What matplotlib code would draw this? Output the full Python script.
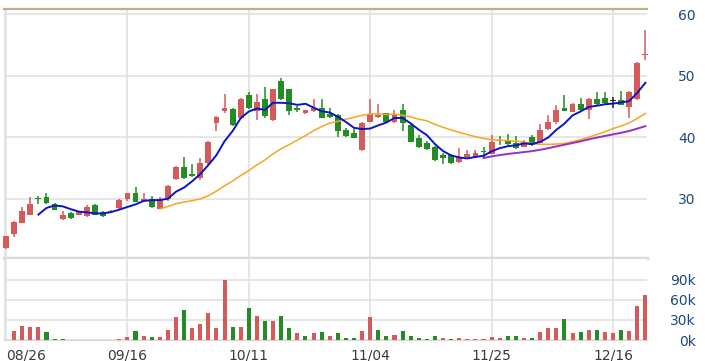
import numpy as np
import pandas as pd
import matplotlib
matplotlib.use('Agg')
import matplotlib.pyplot as plt

# daily candles (open, high, low, close)
opens = [22.0, 24.3, 26.1, 27.4, 30.0, 30.2, 29.1, 26.7, 27.7, 27.35,
         27.2, 29.0, 27.9, 27.8, 28.5, 29.9, 31.0, 29.7, 29.9, 28.4,
         29.9, 33.2, 35.2, 34.1, 33.3, 35.75, 42.35, 44.3, 44.6, 43.1,
         46.8, 44.25, 46.2, 42.8, 49.1, 47.8, 44.7, 43.9, 44.2, 44.8,
         43.7, 43.6, 41.2, 40.7, 37.9, 42.5, 43.3, 43.9, 42.4, 44.4,
         42.0, 39.8, 39.1, 38.45, 37.1, 37.1, 35.9, 36.8, 36.8, 37.8,
         37.3, 39.55, 39.55, 39.0, 38.45, 40.1, 39.1, 41.3, 42.5, 44.8,
         44.15, 45.35, 44.4, 46.2, 46.3, 45.9, 46.05, 44.95, 46.2, 53.4]
highs = [24.0, 26.3, 28.7, 30.2, 30.4, 30.9, 29.3, 28.0, 27.9, 27.9,
         28.9, 29.1, 28.0, 28.1, 30.0, 31.0, 31.9, 30.9, 30.4, 30.2,
         32.3, 35.4, 36.8, 35.7, 36.7, 39.4, 43.4, 47.0, 44.7, 46.3,
         47.4, 47.1, 48.2, 47.9, 49.7, 47.9, 45.0, 44.5, 46.2, 46.2,
         44.8, 43.7, 41.5, 41.3, 42.4, 46.2, 45.35, 44.0, 44.5, 45.4,
         42.1, 40.35, 39.4, 38.5, 37.4, 37.2, 38.2, 37.85, 38.0, 38.45,
         40.3, 40.2, 40.5, 40.2, 39.5, 40.4, 42.15, 43.6, 45.2, 46.85,
         45.5, 46.4, 46.4, 47.4, 47.4, 46.6, 47.55, 47.5, 52.2, 57.5]
lows = [21.9, 23.7, 26.0, 27.3, 29.2, 29.2, 28.1, 26.6, 26.7, 27.3,
        27.1, 27.3, 27.1, 27.7, 28.4, 29.7, 29.4, 29.6, 28.5, 28.3,
        29.6, 33.0, 33.2, 33.5, 33.1, 35.3, 41.05, 43.9, 41.9, 43.0,
        44.6, 42.8, 43.1, 42.7, 46.1, 43.6, 44.1, 43.8, 44.1, 43.1,
        43.2, 40.1, 40.1, 39.8, 37.8, 42.4, 43.1, 42.4, 42.3, 41.0,
        39.2, 38.2, 38.0, 36.2, 35.6, 35.7, 35.8, 36.6, 36.7, 36.7,
        37.2, 38.7, 38.7, 38.1, 38.4, 38.6, 39.0, 41.2, 42.2, 44.2,
        44.1, 44.3, 42.9, 45.3, 45.4, 44.7, 45.2, 43.2, 46.0, 52.6]
closes = [23.9, 26.2, 28.0, 29.1, 29.9, 29.3, 28.2, 27.3, 26.8, 27.9,
          28.7, 27.4, 27.2, 28.0, 29.8, 30.9, 29.5, 30.0, 28.6, 29.9,
          32.0, 35.2, 33.4, 33.7, 35.75, 39.3, 43.3, 44.7, 42.0, 46.2,
          44.7, 45.8, 43.5, 47.8, 46.2, 44.3, 44.5, 44.4, 44.7, 43.2,
          43.3, 41.0, 40.2, 39.9, 42.25, 43.7, 43.6, 42.5, 43.6, 42.25,
          39.3, 38.45, 38.1, 36.3, 36.6, 35.75, 36.8, 37.3, 37.5, 37.6,
          39.3, 39.4, 38.9, 38.2, 39.2, 38.7, 41.2, 42.5, 44.4, 44.3,
          45.35, 44.4, 46.2, 45.35, 45.5, 45.9, 45.25, 47.4, 52.1, 53.6]
# volume in thousands
volume = [0, 13.4, 20.8, 18.8, 18.8, 11.9, 2.0, 2.0, 0, 0,
          0, 0, 0, 0, 1.5, 4.0, 13.4, 6.0, 4.0, 4.0,
          14.9, 33.7, 44.6, 17.3, 23.3, 39.6, 17.3, 90.1, 18.8, 18.8,
          48.5, 35.6, 28.2, 28.2, 35.6, 17.3, 9.9, 6.0, 9.9, 11.4,
          6.0, 9.9, 3.5, 3.5, 13.4, 33.7, 14.9, 6.0, 7.4, 13.4,
          6.0, 3.5, 1.5, 6.0, 3.5, 1.5, 3.5, 1.5, 1.5, 1.5,
          5.0, 3.5, 6.0, 6.0, 3.5, 3.5, 11.4, 17.3, 17.3, 31.2,
          9.9, 11.4, 14.9, 14.9, 11.4, 9.9, 14.9, 13.4, 50.5, 67.9]

date_ticks = [0, 15, 30, 45, 60, 75]
date_labels = ['08/26', '09/16', '10/11', '11/04', '11/25', '12/16']
price_ticks = [30, 40, 50, 60]
vol_ticks = [0, 30, 60, 90]

df = pd.DataFrame({'open': opens, 'high': highs, 'low': lows, 'close': closes, 'vol': volume})
df['ma5'] = df['close'].rolling(5).mean()
df['ma20'] = df['close'].rolling(20).mean()
df['ma60'] = df['close'].rolling(60).mean()

RED = '#d45b5b'
GREEN = '#238c23'
GRID = '#e2e2e2'
LABEL = '#1d4a80'

x = np.arange(len(df))
candle_col = np.where(df['close'] > df['open'], RED, np.where(df['close'] < df['open'], GREEN, '#222222'))
vol_col = np.where(df['close'] >= df['close'].shift(1).fillna(df['close'][0]), RED, GREEN)

W, H = 705, 361
fig = plt.figure(figsize=(W / 100, H / 100), dpi=100)
ax = fig.add_axes([4 / W, (H - 258) / H, 643 / W, 249 / H])
axv = fig.add_axes([4 / W, (H - 340) / H, 643 / W, 81 / H], sharex=ax)

# price panel
ax.vlines(x, df['low'], df['high'], colors=candle_col, linewidth=1.1, zorder=3, clip_on=False)
body_lo = np.minimum(df['open'], df['close'])
body_h = np.maximum((df['close'] - df['open']).abs(), 0.15)
bars = ax.bar(x, body_h, bottom=body_lo, width=0.72, color=candle_col, zorder=4)
for b in bars:
    b.set_clip_on(False)
ax.plot(x, df['ma20'], color='#f5a623', linewidth=1.1, zorder=5)
ax.plot(x, df['ma60'], color='#9a2fc0', linewidth=1.4, zorder=5)
ax.plot(x, df['ma5'], color='#0a14c8', linewidth=1.4, zorder=6, clip_on=False)

ax.set_xlim(-0.25, 79.2)
ax.set_ylim(20.36, 60.85)
ax.set_yticks(price_ticks)
ax.yaxis.tick_right()
ax.grid(True, color=GRID, linewidth=1.2)
ax.set_xticks(date_ticks)
ax.tick_params(axis='x', length=0, labelbottom=False)
ax.tick_params(axis='y', length=0, pad=35, labelsize=10, labelcolor=LABEL)
for t in ax.get_yticklabels():
    t.set_horizontalalignment('right')
ax.spines['top'].set_color('#c2ae88')
ax.spines['top'].set_linewidth(1.6)
ax.spines['right'].set_visible(False)
ax.spines['left'].set_color(GRID)
ax.spines['bottom'].set_color('#dcdcdc')
ax.spines['bottom'].set_linewidth(2.5)
ax.set_axisbelow(True)

# volume panel
axv.bar(x, df['vol'], width=0.5, color=vol_col, zorder=3)
axv.set_ylim(0, 121)
axv.set_yticks(vol_ticks)
axv.set_yticklabels([f'{v}k' for v in vol_ticks])
axv.yaxis.tick_right()
axv.grid(True, color=GRID, linewidth=1.2)
axv.set_axisbelow(True)
axv.set_xticks(date_ticks)
axv.set_xticklabels(date_labels)
axv.tick_params(axis='x', length=0, pad=6, labelsize=10, labelcolor='#3a3a3a')
axv.tick_params(axis='y', length=0, pad=35, labelsize=10, labelcolor=LABEL)
for t in axv.get_yticklabels():
    t.set_horizontalalignment('right')
axv.get_xticklabels()[0].set_horizontalalignment('left')
axv.spines['top'].set_visible(False)
axv.spines['right'].set_visible(False)
axv.spines['left'].set_color(GRID)
axv.spines['bottom'].set_color('#d8d8d8')

fig.savefig('out.png', dpi=100)
